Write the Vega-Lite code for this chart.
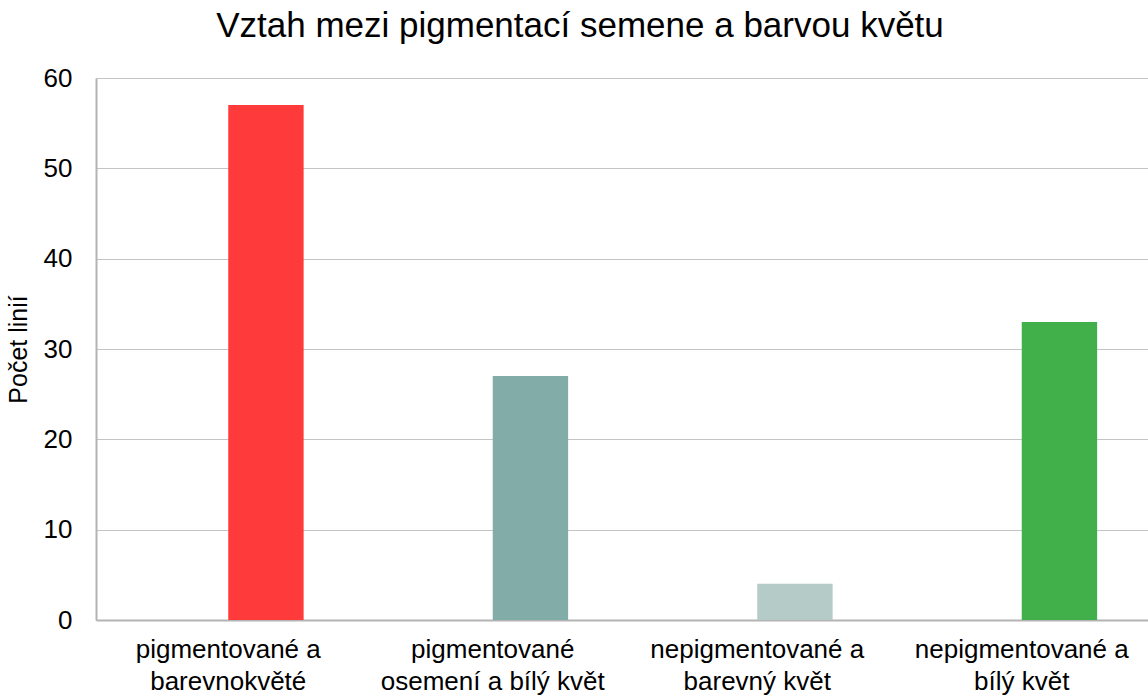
{
  "$schema": "https://vega.github.io/schema/vega-lite/v6.json",
  "width": 1058,
  "height": 542,
  "autosize": {"type": "none"},
  "padding": {"left": 96, "top": 78, "right": 0, "bottom": 75},
  "background": "white",
  "title": {
    "text": "Vztah mezi pigmentací semene a barvou květu",
    "font": "Liberation Sans",
    "fontSize": 35,
    "fontWeight": "normal",
    "color": "black",
    "anchor": "middle",
    "frame": "group",
    "dx": -45,
    "offset": 21
  },
  "data": {
    "values": [
      {"kategorie": "pigmentované a|barevnokvěté", "skupina": "b", "pocet": 57},
      {"kategorie": "pigmentované|osemení a bílý květ", "skupina": "b", "pocet": 27},
      {"kategorie": "nepigmentované a|barevný květ", "skupina": "b", "pocet": 4},
      {"kategorie": "nepigmentované a|bílý květ", "skupina": "b", "pocet": 33}
    ]
  },
  "mark": {"type": "bar"},
  "encoding": {
    "x": {
      "field": "kategorie",
      "type": "nominal",
      "sort": null,
      "scale": {"paddingInner": 0.43, "paddingOuter": 0.215},
      "axis": {
        "title": null,
        "labelAngle": 0,
        "labelExpr": "split(datum.label, '|')",
        "labelFont": "Liberation Sans",
        "labelFontSize": 26,
        "labelLineHeight": 32,
        "labelLimit": 400,
        "labelColor": "black",
        "labelPadding": 16,
        "ticks": false,
        "domainColor": "#b3b3b3",
        "domainWidth": 2,
        "grid": false
      }
    },
    "xOffset": {
      "field": "skupina",
      "type": "nominal",
      "scale": {"domain": ["a", "b"], "paddingInner": 0, "paddingOuter": 0}
    },
    "y": {
      "field": "pocet",
      "type": "quantitative",
      "scale": {"domain": [0, 60], "nice": false},
      "axis": {
        "title": "Počet linií",
        "titleFont": "Liberation Sans",
        "titleFontSize": 25,
        "titleFontWeight": "normal",
        "titleColor": "black",
        "titlePadding": 12,
        "values": [0, 10, 20, 30, 40, 50, 60],
        "labelFont": "Liberation Sans",
        "labelFontSize": 26,
        "labelColor": "black",
        "labelPadding": 24,
        "ticks": false,
        "domainColor": "#b3b3b3",
        "domainWidth": 2,
        "grid": true,
        "gridColor": "#c4c4c4",
        "gridWidth": 1.2
      }
    },
    "color": {
      "field": "kategorie",
      "type": "nominal",
      "scale": {
        "domain": ["pigmentované a|barevnokvěté", "pigmentované|osemení a bílý květ", "nepigmentované a|barevný květ", "nepigmentované a|bílý květ"],
        "range": ["#FF3A3A", "#82ACA7", "#B4CBC7", "#41AF4A"]
      },
      "legend": null
    }
  },
  "config": {"view": {"stroke": null}}
}
